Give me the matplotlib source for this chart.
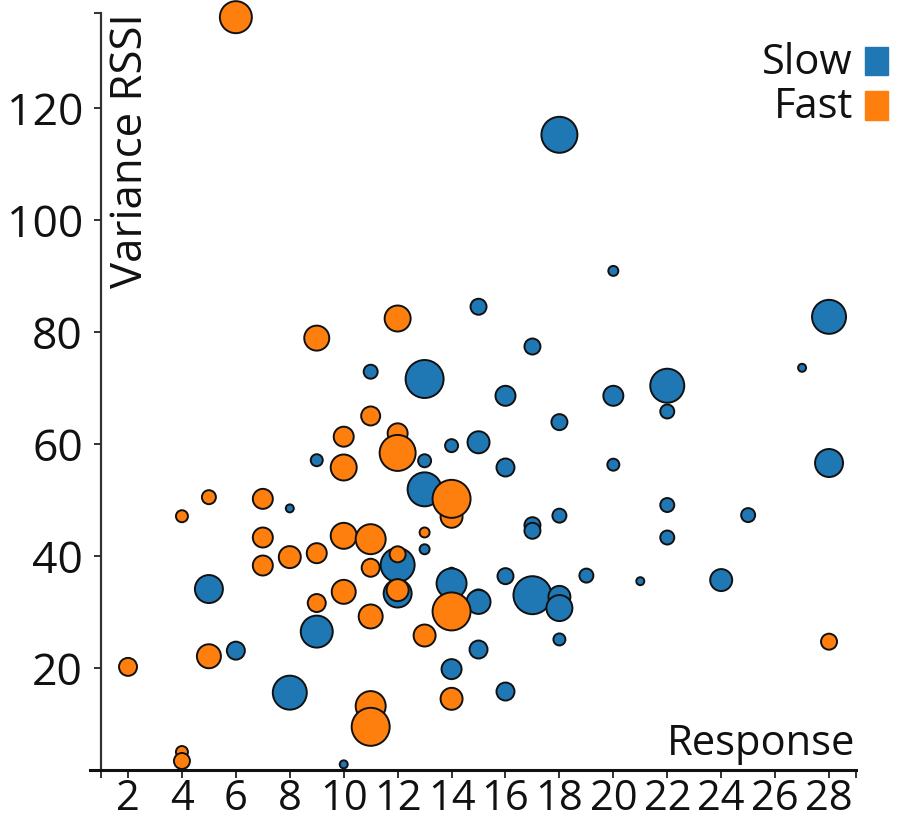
import matplotlib
matplotlib.use("Agg")
import matplotlib.pyplot as plt
from matplotlib.patches import Rectangle

BLUE, ORANGE, INK = "#1f77b4", "#ff7f0e", "#111111"
FONT = ["Open Sans", "DejaVu Sans"]
plt.rcParams["font.family"] = FONT

# Slow group: response, variance RSSI, bubble weight
slow_x = [18, 20, 15, 28, 17, 27, 11, 13, 22, 16, 20, 22, 18, 15, 14, 9, 13, 28, 20, 16,
          13, 22, 8, 25, 18, 17, 17, 22, 13, 12, 14, 16, 19, 24, 21, 14, 5, 12, 17, 18,
          15, 15, 18, 9, 18, 15, 6, 14, 16, 8, 10]
slow_y = [115.2, 90.9, 84.5, 82.7, 77.4, 73.6, 72.9, 71.6, 70.4, 68.6, 68.6, 65.8, 63.9, 60.3,
          59.7, 57.1, 57.0, 56.6, 56.3, 55.8, 51.9, 49.1, 48.5, 47.3, 47.2, 45.5, 44.5, 43.3,
          41.2, 38.4, 37.2, 36.4, 36.5, 35.7, 35.5, 35.1, 34.1, 33.3, 33.0, 32.7, 32.6, 31.8,
          30.7, 26.5, 25.1, 23.3, 23.1, 19.8, 15.8, 15.6, 2.8]
slow_w = [18, 5, 8, 17, 8, 4, 7, 19, 17, 10, 10, 7, 8, 11, 6.5, 6, 6.5, 14, 6, 9,
          17, 7, 4, 7, 7, 8, 8, 7, 5, 17, 4, 8, 7, 11, 4, 15, 14, 14, 19, 11,
          8, 12, 13, 16, 6, 9, 9, 10, 9, 17, 4]

# Fast group
fast_x = [6, 12, 9, 11, 12, 10, 12, 10, 5, 7, 4, 14, 14, 13, 10, 7, 11, 12, 9, 8,
          7, 11, 12, 10, 9, 14, 11, 13, 28, 5, 2, 14, 11, 11, 4, 4]
fast_y = [136.2, 82.4, 78.9, 65.0, 61.9, 61.3, 58.4, 55.8, 50.5, 50.2, 47.1, 47.0, 50.2, 44.2,
          43.6, 43.3, 43.0, 40.3, 40.5, 39.8, 38.3, 37.9, 33.9, 33.6, 31.6, 30.1, 29.2, 25.8,
          24.7, 22.1, 20.2, 14.5, 13.2, 9.5, 5.0, 3.4]
fast_w = [16, 13, 12.5, 9.5, 10, 10, 18, 13, 7, 10, 6, 11, 19, 5, 13, 10, 15, 8, 10, 11,
          10, 9, 11, 12, 9, 19, 12, 11, 8, 12, 9, 11, 15, 19, 6, 8]

x_ticks = [2, 4, 6, 8, 10, 12, 14, 16, 18, 20, 22, 24, 26, 28]
y_ticks = [20, 40, 60, 80, 100, 120]

W, H = 898, 822
fig = plt.figure(figsize=(W / 100, H / 100), dpi=100)
ax = fig.add_axes([90 / W, 1 - 770 / H, (856 - 90) / W, (770 - 12.7) / H])
ax.set_xlim(0.59, 29.0)
ax.set_ylim(1.79, 137.0)

# bubble weight -> radius in px -> marker area in pt^2
area = lambda ws: [(2 * w * 0.72) ** 2 for w in ws]
ax.scatter(slow_x, slow_y, s=area(slow_w), color=BLUE, edgecolor="#111", linewidth=1.4,
           zorder=3, clip_on=False)
ax.scatter(fast_x, fast_y, s=area(fast_w), color=ORANGE, edgecolor="#111", linewidth=1.4,
           zorder=4, clip_on=False)

for s in ["top", "right"]:
    ax.spines[s].set_visible(False)
ax.spines["left"].set_position(("data", 1))
ax.spines["left"].set_linewidth(1.6)
ax.spines["bottom"].set_linewidth(2.2)
ax.spines["left"].set_color("#333")
ax.spines["bottom"].set_color("#111")

ax.set_xticks([1] + x_ticks + [29])
ax.set_xticklabels([""] + [str(t) for t in x_ticks] + [""], fontsize=30, color=INK)
ax.set_yticks(y_ticks + [137.0])
ax.set_yticklabels([str(t) for t in y_ticks] + [""], fontsize=32, color=INK)
ax.tick_params(axis="x", length=6, width=1.3, pad=0, color="#222")
ax.tick_params(axis="y", length=5, width=1.3, pad=8, color="#222")

fig.text(855 / W, 1 - 755 / H, "Response", ha="right", va="baseline", fontsize=30, color=INK)
fig.text(108 / W, 1 - 13 / H, "Variance RSSI", rotation=90, ha="left", va="top", fontsize=31.5, color=INK)

# legend
for lab, col, ty, y0, y1 in [("Slow", BLUE, 74, 47, 75), ("Fast", ORANGE, 118, 91, 120)]:
    fig.text(853 / W, 1 - ty / H, lab, ha="right", va="baseline", fontsize=30, color=INK)
    fig.patches.append(Rectangle((865 / W, 1 - y1 / H), 23 / W, (y1 - y0) / H,
                                 transform=fig.transFigure, color=col))

fig.savefig("out.png", dpi=100, facecolor="white")
